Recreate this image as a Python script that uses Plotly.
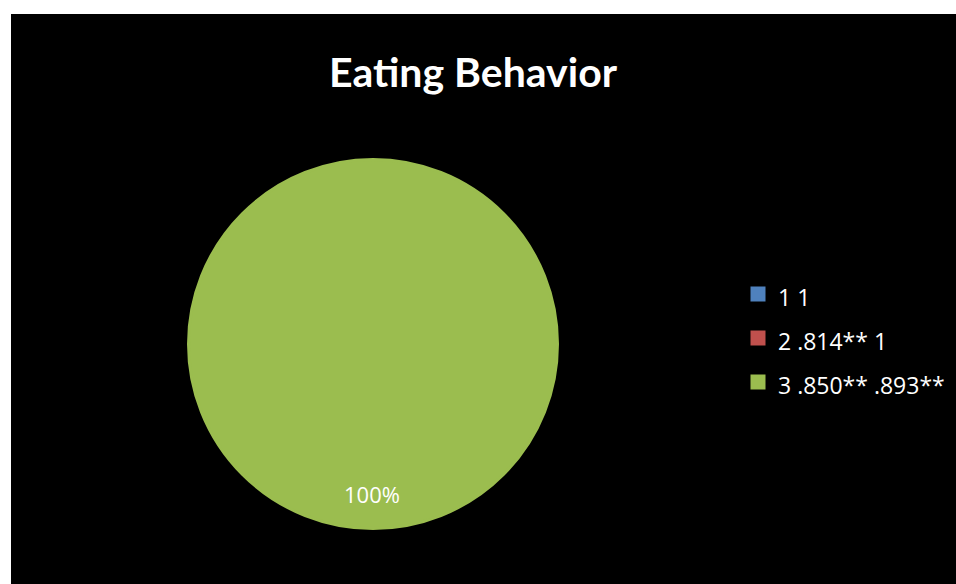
import plotly.graph_objects as go

# Series labels and values
labels = ["1 1", "2 .814** 1", "3 .850** .893**"]
values = [0, 0, 1]
colors = ["#4F81BD", "#C0504D", "#9BBD4F"]
title_text = "Eating Behavior"

W, H = 956, 584
total = sum(values)

# legend rows are spaced by the legend font size; the visible text is set smaller
legend_text_px = 23
legend_names = [f'<span style="font-size:{legend_text_px}px">{s}</span>' for s in labels]

fig = go.Figure(go.Pie(
    labels=legend_names,
    values=values,
    # same-colour outline enlarges the legend swatches
    marker=dict(colors=colors, line=dict(width=3, color=colors)),
    textinfo="none",
    hovertext=labels,
    hoverinfo="text+percent",
    sort=False,
    direction="clockwise",
    domain=dict(x=[188.5 / W, 557.5 / W], y=[1 - 529.5 / H, 1 - 158.5 / H]),
    showlegend=True,
))

# percentage label for the only non-zero slice
pct = values[2] / total * 100
fig.add_annotation(
    x=372 / W, y=1 - 494 / H, xref="paper", yref="paper",
    xanchor="center", yanchor="middle",
    text=f"{pct:.0f}%", showarrow=False,
    font=dict(family="Open Sans, sans-serif", size=22, color="white"),
)

# black chart area inside a thin white frame
fig.add_shape(
    type="rect", xref="paper", yref="paper",
    x0=11 / W, x1=1, y0=0, y1=1 - 14 / H,
    fillcolor="black", line=dict(width=0), layer="below",
)

fig.update_layout(
    width=W, height=H,
    margin=dict(l=0, r=0, t=0, b=0),
    paper_bgcolor="white",
    plot_bgcolor="black",
    title=dict(
        text=f"<b>{title_text}</b>",
        x=473 / W, xanchor="center",
        y=1 - 73 / H, yanchor="middle",
        font=dict(family="Lato, Open Sans, sans-serif", size=41, color="white"),
    ),
    legend=dict(
        x=738 / W, xanchor="left",
        y=1 - 267 / H, yanchor="top",
        font=dict(family="Open Sans, sans-serif", size=31.5, color="white"),
        bgcolor="rgba(0,0,0,0)",
        traceorder="normal",
    ),
)

fig.write_html("out.html")
